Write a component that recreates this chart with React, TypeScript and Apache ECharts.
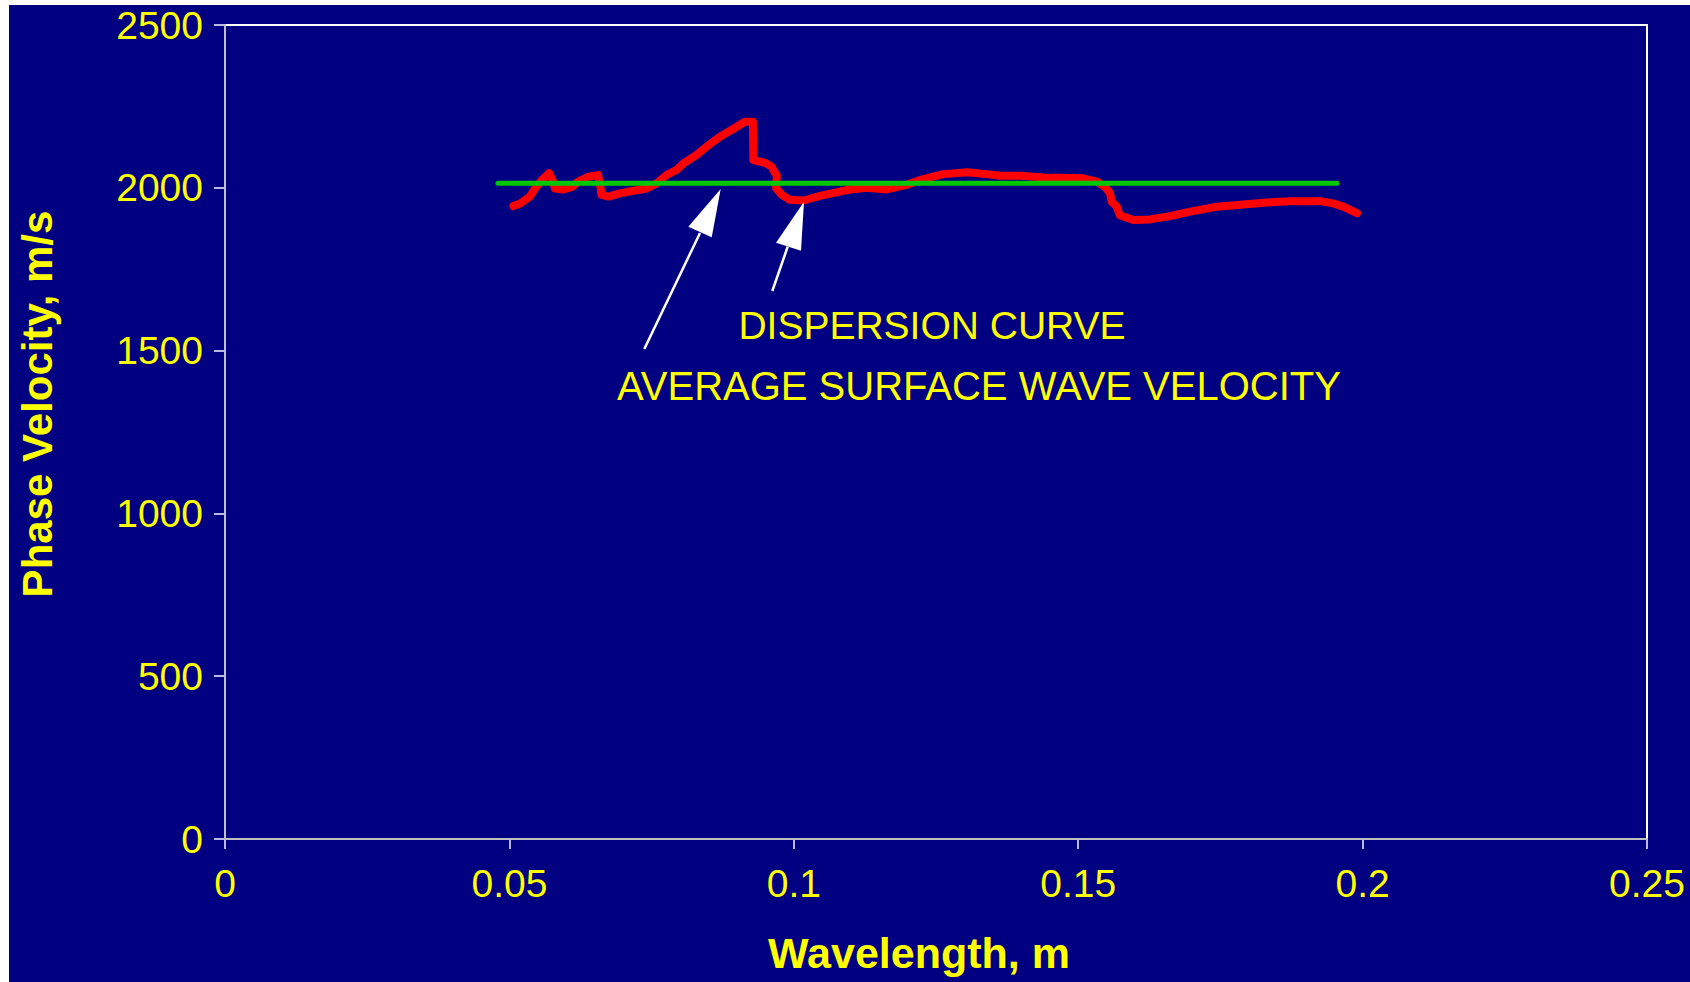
import React, { useEffect, useRef } from "react";
import * as echarts from "echarts";

// Dispersion curve: wavelength (m) and phase velocity (m/s)
const dispersionX = [
  0.0507, 0.0519, 0.0536, 0.0545, 0.0557, 0.0570, 0.0577, 0.0580, 0.0595, 0.0610,
  0.0621, 0.0639, 0.0656, 0.0659, 0.0662, 0.0674, 0.0694, 0.0718, 0.0741, 0.0759,
  0.0777, 0.0794, 0.0806, 0.0829, 0.0850, 0.0870, 0.0905, 0.0914, 0.0928, 0.0929,
  0.0949, 0.0961, 0.0967, 0.0970, 0.0969, 0.0979, 0.0993, 0.1017, 0.1046, 0.1093,
  0.1128, 0.1163, 0.1198, 0.1222, 0.1263, 0.1304, 0.1339, 0.1363, 0.1398, 0.1439,
  0.1468, 0.1509, 0.1533, 0.1547, 0.1556, 0.1559, 0.1568, 0.1573, 0.1597, 0.1626,
  0.1661, 0.1697, 0.1744, 0.1790, 0.1831, 0.1872, 0.1925, 0.1948, 0.1966, 0.1990,
];
const dispersionY = [
  1944, 1952, 1973, 1998, 2024, 2045, 2019, 1998, 1995, 2003,
  2019, 2034, 2039, 2014, 1978, 1973, 1983, 1991, 1998, 2014,
  2040, 2055, 2075, 2101, 2131, 2157, 2193, 2203, 2203, 2085,
  2077, 2065, 2045, 2039, 1998, 1978, 1963, 1961, 1975, 1993,
  2000, 1995, 2009, 2024, 2042, 2048, 2042, 2037, 2037, 2032,
  2031, 2029, 2019, 2003, 1983, 1957, 1942, 1916, 1901, 1903,
  1913, 1927, 1942, 1949, 1955, 1959, 1959, 1952, 1942, 1922,
];

// Average surface wave velocity
const averageX = [0.048, 0.1955];
const averageY = [2014, 2014];

const xTicks = [0, 0.05, 0.1, 0.15, 0.2, 0.25];
const yTicks = [0, 500, 1000, 1500, 2000, 2500];

const xTitle = "Wavelength, m";
const yTitle = "Phase Velocity, m/s";
const note1 = "DISPERSION CURVE";
const note2 = "AVERAGE SURFACE WAVE VELOCITY";

export default function App() {
  const ref = useRef<HTMLDivElement>(null);

  useEffect(() => {
    document.body.style.margin = "0";
    if (!ref.current) return;
    const chart = echarts.init(ref.current, undefined, { renderer: "svg" });
    const yellow = "#ffff00";
    const font = "'Liberation Sans', Arial, sans-serif";
    const arrowStyle = { fill: "#ffffff" };
    chart.setOption({
      animation: false,
      backgroundColor: "#000080",
      grid: {
        left: 216,
        top: 20,
        right: 43,
        bottom: 143,
        show: true,
        borderColor: "#ffffff",
        borderWidth: 2,
        backgroundColor: "transparent",
      },
      xAxis: {
        type: "value",
        min: xTicks[0],
        max: xTicks[xTicks.length - 1],
        interval: 0.05,
        axisLine: { show: true, onZero: false, lineStyle: { color: "#c0c0c0", width: 2 } },
        axisTick: { show: true, inside: false, length: 10, lineStyle: { color: "#b8b8e0", width: 2 } },
        splitLine: { show: false },
        axisLabel: {
          color: yellow,
          fontSize: 39,
          fontFamily: font,
          margin: 25,
          formatter: (v: number) => String(+v.toFixed(2)),
        },
      },
      yAxis: {
        type: "value",
        min: yTicks[0],
        max: yTicks[yTicks.length - 1],
        interval: 500,
        axisLine: { show: true, onZero: false, lineStyle: { color: "#c0c0c0", width: 2 } },
        axisTick: { show: true, inside: false, length: 11, lineStyle: { color: "#b8b8e0", width: 2 } },
        splitLine: { show: false },
        axisLabel: {
          color: yellow,
          fontSize: 39,
          fontFamily: font,
          margin: 22,
          formatter: (v: number) => String(Math.round(v)),
        },
      },
      series: [
        {
          type: "line",
          name: "Dispersion curve",
          data: dispersionX.map((x, i) => [x, dispersionY[i]]),
          showSymbol: false,
          symbol: "none",
          lineStyle: { color: "#ff0000", width: 8, cap: "round", join: "round" },
          z: 3,
        },
        {
          type: "line",
          name: "Average surface wave velocity",
          data: averageX.map((x, i) => [x, averageY[i]]),
          showSymbol: false,
          symbol: "none",
          lineStyle: { color: "#00c800", width: 5, cap: "round" },
          z: 4,
        },
      ],
      graphic: [
        {
          type: "text",
          x: 28,
          y: 399,
          rotation: Math.PI / 2,
          style: {
            text: yTitle,
            fill: yellow,
            font: `bold 42px ${font}`,
            align: "center",
            verticalAlign: "middle",
          },
        },
        {
          type: "text",
          x: 910,
          y: 948,
          style: {
            text: xTitle,
            fill: yellow,
            font: `bold 43px ${font}`,
            align: "center",
            verticalAlign: "middle",
          },
        },
        {
          type: "text",
          x: 923,
          y: 320,
          style: {
            text: note1,
            fill: yellow,
            font: `39px ${font}`,
            align: "center",
            verticalAlign: "middle",
          },
        },
        {
          type: "text",
          x: 970,
          y: 381,
          style: {
            text: note2,
            fill: yellow,
            font: `40px ${font}`,
            align: "center",
            verticalAlign: "middle",
          },
        },
        {
          type: "line",
          shape: { x1: 635.3, y1: 344, x2: 691, y2: 228 },
          style: { stroke: "#ffffff", lineWidth: 2.5 },
          z: 10,
        },
        {
          type: "polygon",
          shape: { points: [[711.7, 184], [679.3, 221.7], [702.7, 232.3]] },
          style: arrowStyle,
          z: 10,
        },
        {
          type: "line",
          shape: { x1: 763.3, y1: 286, x2: 778.7, y2: 241.7 },
          style: { stroke: "#ffffff", lineWidth: 2.5 },
          z: 10,
        },
        {
          type: "polygon",
          shape: { points: [[795, 196.7], [767, 237.7], [792, 245.7]] },
          style: arrowStyle,
          z: 10,
        },
      ],
    });
    return () => chart.dispose();
  }, []);

  return (
    <div style={{ position: "relative", width: 1690, height: 982, background: "#ffffff", overflow: "hidden" }}>
      <div ref={ref} style={{ position: "absolute", left: 9, top: 5, width: 1681, height: 977 }} />
    </div>
  );
}
